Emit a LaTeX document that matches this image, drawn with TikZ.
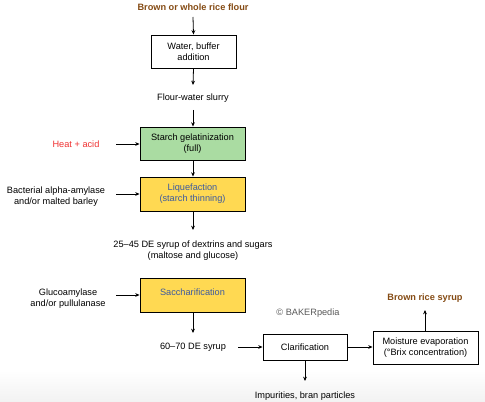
\documentclass[tikz,border=0pt]{standalone}
\usepackage{fontspec}
\setmainfont{Liberation Sans}
\usetikzlibrary{arrows.meta}
\definecolor{brownt}{RGB}{133,75,20}
\definecolor{gfill}{RGB}{170,220,162}
\definecolor{yfill}{RGB}{255,217,82}
\definecolor{bluet}{RGB}{60,90,160}
\definecolor{redt}{RGB}{240,50,50}
\definecolor{greyt}{RGB}{90,90,90}
\definecolor{bgbot}{RGB}{242,242,242}
\tikzset{
  base/.style={font=\fontsize{6.9pt}{8.3pt}\selectfont, align=center, inner sep=0pt},
  box/.style={base, draw=black, line width=0.7pt, minimum width=#1},
  lbl/.style={base},
  ttl/.style={base, font=\fontsize{6.9pt}{8.3pt}\selectfont\bfseries, text=brownt},
  arr/.style={-{Stealth[length=3.2pt,width=2.8pt]}, line width=0.6pt},
}
\begin{document}
\begin{tikzpicture}[x=0.75pt,y=-0.75pt]
\useasboundingbox (0,0) rectangle (485,402);
\fill[white] (0,0) rectangle (485,372);
\shade[top color=white, bottom color=bgbot] (0,370) rectangle (485,402);
% title
\node[ttl] (flour) at (193,7) {Brown or whole rice flour};
% boxes
\node[box, fill=white, minimum width=63.75pt, minimum height=24.75pt] (water) at (193.5,51.5) {Water, buffer\\addition};
\node[lbl] (slurry) at (193,98) {Flour-water slurry};
\node[box, fill=gfill, minimum width=78.75pt, minimum height=24.75pt] (gel) at (192.5,143.5) {Starch gelatinization\\(full)};
\node[box, fill=yfill, minimum width=78.75pt, minimum height=25.5pt, text=bluet] (liq) at (192.5,194) {Liquefaction\\(starch thinning)};
\node[lbl] (dex) at (193,251) {25--45 DE syrup of dextrins and sugars\\(maltose and glucose)};
\node[box, fill=yfill, minimum width=78.75pt, minimum height=25.5pt] (sacc) at (192.5,295) {};
\node[base, text=bluet] (sacct) at (192.5,292) {Saccharification};
\node[lbl] (de70) at (193,347) {60--70 DE syrup};
\node[box, fill=white, minimum width=63pt, minimum height=19.5pt] (clar) at (305,347) {Clarification};
\node[lbl] (imp) at (305,396) {Impurities, bran particles};
\node[box, fill=white, minimum width=78.75pt, minimum height=24.75pt] (moist) at (425.5,347.5) {Moisture evaporation\\(\textdegree Brix concentration)};
\node[ttl] (syrup) at (425,298) {Brown rice syrup};
\node[base, text=greyt] (copy) at (308,313) {\textcopyright{} BAKERpedia};
% left inputs
\node[base, text=redt] (heat) at (76,144) {Heat + acid};
\node[lbl] (amyl) at (56,196.5) {Bacterial alpha-amylase\\and/or malted barley};
\node[lbl] (gluco) at (68,298.5) {Glucoamylase\\and/or pullulanase};
% anchors for free ends
\coordinate (heatE) at (116,144);
\coordinate (amylE) at (116,194);
\coordinate (glucoE) at (116,295);
% arrows
\draw[arr] (193,17) -- (water.north);
\draw[arr] (water.south) -- (193,85);
\draw[arr] (193,110) -- (gel.north -| 193,0);
\draw[arr] (gel.south -| 193,0) -- (liq.north -| 193,0);
\draw[arr] (liq.south -| 193,0) -- (193,230);
\draw[arr] (sacc.south -| 193,0) -- (193,333);
\draw[arr] (heatE) -- (gel.west |- heatE);
\draw[arr] (amylE) -- (liq.west |- amylE);
\draw[arr] (glucoE) -- (sacc.west |- glucoE);
\draw[arr] (238,347) -- (clar.west);
\draw[arr] (clar.south) -- (305,381);
\draw[arr] (clar.east) -- (moist.west |- clar.east);
\draw[arr] (moist.north -| 425,0) -- (425,310);
\end{tikzpicture}
\end{document}
